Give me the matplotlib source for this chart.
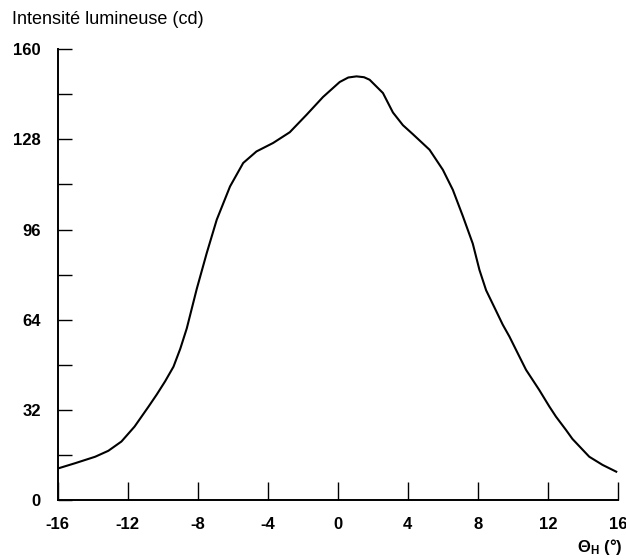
import numpy as np
import matplotlib
matplotlib.use('Agg')
import matplotlib.pyplot as plt

plt.rcParams['font.family'] = ['Liberation Sans', 'DejaVu Sans']
plt.rcParams['mathtext.fontset'] = 'custom'
plt.rcParams['mathtext.rm'] = 'Liberation Sans:bold'
plt.rcParams['mathtext.it'] = 'Liberation Sans:italic:bold'
plt.rcParams['mathtext.bf'] = 'Liberation Sans:bold'

# angle (deg) and luminous intensity (cd)
theta = [-16.0, -15.0, -13.85, -13.1, -12.35, -11.6, -10.8, -10.33, -9.86,
         -9.38, -8.99, -8.62, -8.05, -7.48, -6.91, -6.15, -5.4, -4.64, -3.69,
         -2.74, -1.78, -0.84, 0.11, 0.6, 1.07, 1.5, 1.82, 2.58, 3.15, 3.72, 4.29,
         5.24, 6.0, 6.57, 7.14, 7.71, 8.09, 8.47, 9.04, 9.42, 9.8, 10.37,
         10.75, 11.5, 12.08, 12.46, 13.03, 13.4, 14.36, 15.12, 15.9]
intensity = [11.3, 13.2, 15.5, 17.6, 20.9, 26.2, 33.3, 37.6, 42.2,
             47.4, 53.8, 61.0, 75.0, 87.7, 99.5, 111.3, 119.6, 123.7, 126.7,
             130.5, 136.7, 143.0, 148.3, 149.9, 150.3, 150.0, 149.1, 144.4, 137.5, 133.0, 129.8,
             124.3, 117.2, 110.1, 100.8, 91.0, 81.7, 74.5, 67.2, 62.3, 58.1, 51.0,
             46.3, 39.2, 33.3, 29.7, 25.0, 21.8, 15.5, 12.6, 10.2]

xticks = [-16, -12, -8, -4, 0, 4, 8, 12, 16]
yticks_major = [0, 32, 64, 96, 128, 160]
yticks_minor = [16, 48, 80, 112, 144]

fig = plt.figure(figsize=(6.26, 5.6), dpi=100)
ax = fig.add_axes([0.0919, 0.1063, 0.8953, 0.8062])

ax.plot(theta, intensity, color='black', lw=1.5, solid_joinstyle='round')

ax.set_xlim(-16, 16)
ax.set_ylim(0, 160)
ax.spines['top'].set_visible(False)
ax.spines['right'].set_visible(False)
ax.spines['left'].set_linewidth(1.4)
ax.spines['bottom'].set_linewidth(1.4)

ax.set_xticks(xticks)
ax.set_xticklabels([str(v) for v in xticks])
ax.set_yticks(yticks_major)
ax.set_yticklabels([str(v) for v in yticks_major])
ax.set_yticks(yticks_minor, minor=True)

ax.tick_params(axis='x', direction='in', length=13, width=1.0, pad=12,
               labelsize=12)
ax.tick_params(axis='y', which='both', direction='in', length=10, width=1.0,
               pad=12, labelsize=12)
for lab in ax.get_xticklabels() + ax.get_yticklabels():
    lab.set_fontweight('bold')

fig.text(12 / 626, 1 - 24 / 560, 'Intensité lumineuse (cd)', fontsize=13,
         ha='left', va='baseline')
fig.text(622 / 626, 1 - 552 / 560, r'$\Theta_\mathrm{H}$ (°)', fontsize=12,
         fontweight='bold', ha='right', va='baseline')

fig.savefig('out.png', dpi=100)
